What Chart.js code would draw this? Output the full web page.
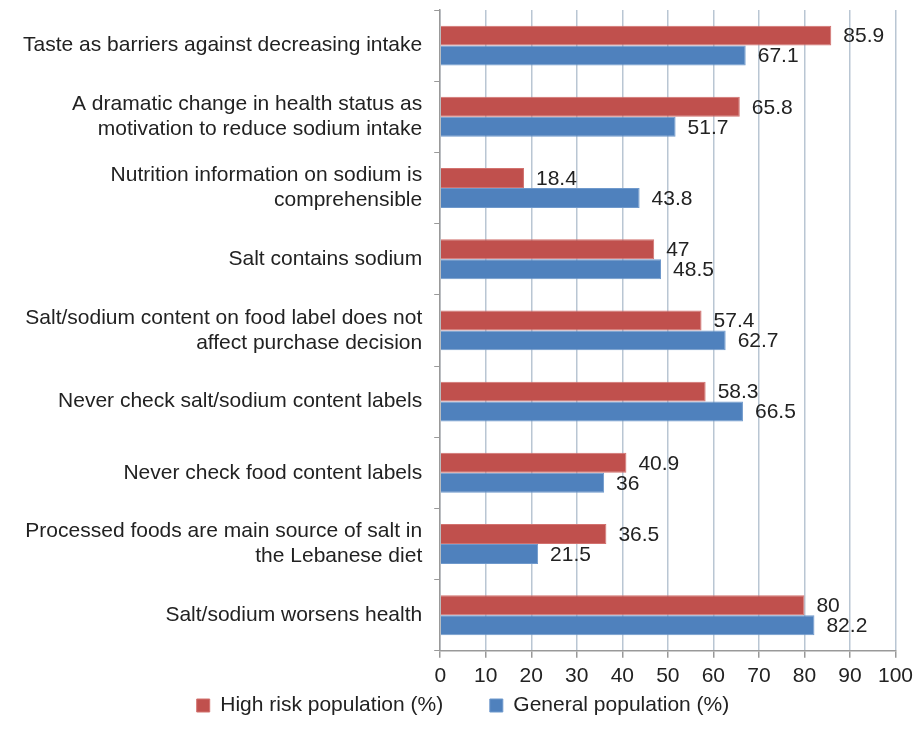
<!DOCTYPE html>
<html>
<head>
<meta charset="utf-8">
<script src="https://cdn.jsdelivr.net/npm/chart.js@4"></script>
<style>
  html, body { margin: 0; padding: 0; background: #fff; }
  #wrap { width: 919px; height: 746px; }
</style>
</head>
<body>
<div id="wrap"><canvas id="salt"></canvas></div>
<script>
const categories = [
  ["Taste as barriers against decreasing intake"],
  ["A dramatic change in health status as", "motivation to reduce sodium intake"],
  ["Nutrition information on sodium is", "comprehensible"],
  ["Salt contains sodium"],
  ["Salt/sodium content on food label does not", "affect purchase decision"],
  ["Never check salt/sodium content labels"],
  ["Never check food content labels"],
  ["Processed foods are main source of salt in", "the Lebanese diet"],
  ["Salt/sodium worsens health"],
];

const highRisk = [85.9, 65.8, 18.4, 47, 57.4, 58.3, 40.9, 36.5, 80];
const general = [67.1, 51.7, 43.8, 48.5, 62.7, 66.5, 36, 21.5, 82.2];

const xTicks = [0, 10, 20, 30, 40, 50, 60, 70, 80, 90, 100];

const FONT = "'Liberation Sans', Arial, sans-serif";
const SIZE = 21;

// numbers to the right of each bar
const valueLabels = {
  id: "valueLabels",
  afterDatasetsDraw(chart) {
    const ctx = chart.ctx;
    ctx.save();
    ctx.font = SIZE + "px " + FONT;
    ctx.fillStyle = "#222";
    ctx.textBaseline = "middle";
    ctx.textAlign = "left";
    chart.data.datasets.forEach((ds, di) => {
      chart.getDatasetMeta(di).data.forEach((bar, i) => {
        ctx.fillText(String(ds.data[i]), bar.x + 12, bar.y + 1);
      });
    });
    ctx.restore();
  },
};

new Chart("salt", {
  type: "bar",
  data: {
    labels: categories,
    datasets: [
      {
        label: "High risk population (%)",
        data: highRisk,
        backgroundColor: "#C0504D",
        borderColor: "#D2726F",
        borderWidth: 1,
        categoryPercentage: 0.56,
        barPercentage: 1,
      },
      {
        label: "General population (%)",
        data: general,
        backgroundColor: "#4F81BD",
        borderColor: "#6F99CC",
        borderWidth: 1,
        categoryPercentage: 0.56,
        barPercentage: 1,
      },
    ],
  },
  options: {
    indexAxis: "y",
    responsive: true,
    maintainAspectRatio: false,
    animation: false,
    layout: { padding: { top: 10, right: 4, left: 11, bottom: 20 } },
    scales: {
      x: {
        min: 0,
        max: 100,
        afterBuildTicks: (axis) => {
          axis.ticks = xTicks.map((v) => ({ value: v }));
        },
        grid: {
          color: "#B9C6D3",
          lineWidth: 1.5,
          drawTicks: true,
          tickLength: 7,
          tickColor: "#999",
        },
        border: { display: true, color: "#999", width: 1.5 },
        ticks: {
          color: "#222",
          font: { family: FONT, size: SIZE },
          padding: 6,
          maxRotation: 0,
        },
      },
      y: {
        // labels sit inside their bands, no extra room needed above/below
        afterFit: (axis) => {
          axis.paddingTop = 0;
          axis.paddingBottom = 0;
        },
        grid: {
          drawOnChartArea: false,
          drawTicks: true,
          tickLength: 6,
          tickColor: "#999",
          offset: true,
        },
        border: { display: true, color: "#999", width: 1.5 },
        ticks: {
          color: "#222",
          font: { family: FONT, size: SIZE, lineHeight: 1.2 },
          padding: 12,
        },
      },
    },
    plugins: {
      legend: {
        position: "bottom",
        labels: {
          color: "#222",
          font: { family: FONT, size: SIZE },
          boxWidth: 13,
          boxHeight: 13,
          padding: 0,
          // wider gap between the two entries, as in the original
          generateLabels: (chart) => {
            const items = Chart.defaults.plugins.legend.labels.generateLabels(chart);
            items[0].text += "        ";
            return items;
          },
        },
      },
      tooltip: { enabled: false },
    },
  },
  plugins: [valueLabels],
});
</script>
</body>
</html>
